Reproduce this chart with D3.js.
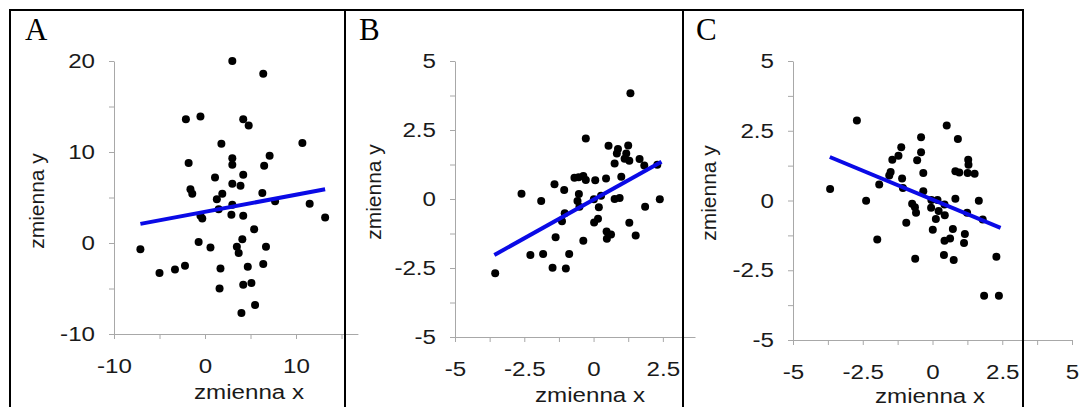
<!DOCTYPE html>
<html>
<head>
<meta charset="utf-8">
<script src="https://cdn.jsdelivr.net/npm/d3@7"></script>
<style>
  body { margin: 0; background: #fff; }
  svg { display: block; }
</style>
</head>
<body>
<div id="chart"></div>
<script>
// Values: [x, y]
const pointsA = [
  [3.0, 20.0], [6.4, 18.6], [-2.1, 13.6], [-0.5, 13.9], [4.2, 13.6], [4.8, 12.9],
  [1.8, 10.9], [10.7, 11.0], [3.0, 9.3], [3.0, 8.6], [7.1, 9.6], [-1.8, 8.8],
  [6.5, 8.5], [1.1, 7.2], [4.2, 7.5], [3.0, 6.5], [3.9, 6.3], [-1.6, 5.9],
  [-1.4, 5.4], [1.9, 5.4], [6.3, 5.5], [1.3, 4.8], [1.5, 3.7], [3.0, 4.2],
  [7.7, 4.6], [11.5, 4.3], [13.2, 2.8], [-0.5, 3.0], [-0.3, 2.7], [2.9, 3.1],
  [4.2, 3.0], [5.4, 1.5], [-7.1, -0.7], [-0.7, 0.1], [0.6, -0.5], [4.1, 0.4],
  [3.5, -0.4], [3.7, -1.1], [6.7, -0.4], [-5.0, -3.3], [-3.3, -2.9], [-2.2, -2.5],
  [1.7, -2.8], [4.7, -2.6], [6.4, -2.3], [1.6, -5.0], [4.2, -4.6], [5.1, -4.4],
  [5.5, -6.8], [4.0, -7.7]
];
const pointsB = [
  [1.33, 3.83], [-0.28, 2.19], [0.54, 1.93], [1.25, 1.94], [0.88, 1.81], [0.84, 1.65],
  [1.18, 1.65], [1.12, 1.46], [1.29, 1.39], [1.66, 1.45], [0.76, 1.29], [1.83, 1.21],
  [2.30, 1.24], [-0.69, 0.77], [-0.54, 0.79], [-0.37, 0.83], [-0.28, 0.69], [0.06, 0.68],
  [0.45, 0.74], [1.00, 0.81], [-1.41, 0.53], [-1.06, 0.33], [-2.60, 0.19], [-1.89, -0.07],
  [-0.53, 0.18], [-0.58, -0.07], [-0.51, -0.28], [0.01, -0.01], [0.27, 0.12], [0.19, -0.30],
  [0.76, 0.0], [0.94, 0.04], [2.39, -0.01], [1.86, -0.28], [-1.04, -0.52], [-1.14, -0.81],
  [0.02, -0.85], [0.16, -0.72], [1.29, -0.86], [-1.37, -1.39], [-0.37, -1.51], [0.47, -1.18],
  [0.48, -1.44], [0.63, -1.29], [1.52, -1.32], [-2.28, -2.03], [-1.82, -1.99], [-0.88, -1.99],
  [-1.48, -2.49], [-1.00, -2.52], [-3.55, -2.69]
];
const pointsC = [
  [-2.71, 2.87], [0.51, 2.69], [-0.41, 2.27], [0.91, 2.20], [-1.12, 1.91], [-0.41, 1.73],
  [-1.22, 1.60], [-1.44, 1.46], [-0.55, 1.44], [1.28, 1.46], [1.29, 1.28], [-1.50, 1.02],
  [-1.55, 0.90], [-0.33, 0.99], [0.82, 1.05], [0.96, 1.00], [1.26, 0.99], [1.51, 0.96],
  [-1.09, 0.79], [-1.06, 0.45], [-1.91, 0.57], [-3.67, 0.41], [-0.33, 0.33], [-2.38, -0.01],
  [-0.04, 0.02], [0.18, 0.02], [0.82, 0.06], [1.66, -0.01], [-0.73, -0.12], [-0.63, -0.24],
  [-0.59, -0.44], [-0.05, -0.26], [0.22, -0.38], [0.43, -0.14], [0.44, -0.53], [1.24, -0.44],
  [1.80, -0.68], [-0.94, -0.80], [0.12, -0.66], [0.01, -1.05], [0.73, -1.02], [1.16, -1.20],
  [-1.98, -1.40], [0.43, -1.44], [0.63, -1.36], [1.13, -1.52], [0.41, -1.95], [-0.62, -2.09],
  [0.76, -2.13], [2.29, -2.02], [1.85, -3.41], [2.38, -3.41]
];

// fitted lines, end points
const lineA = [[-7.1, 2.1], [13.2, 5.9]];
const lineB = [[-3.58, -2.03], [2.45, 1.35]];
const lineC = [[-3.68, 1.56], [2.44, -0.98]];

const panelLetters = ["A", "B", "C"];
const xLabel = "zmienna x";
const yLabel = "zmienna y";

const xTicksA = [-10, -5, 0, 5, 10, 15];
const xTickLabelsA = [-10, 0, 10];
const yTicksA = [-10, -5, 0, 5, 10, 15, 20];
const yTickLabelsA = [-10, 0, 10, 20];

const xTicksB = [-5, -3.75, -2.5, -1.25, 0, 1.25, 2.5];
const xTickLabelsB = [-5, -2.5, 0, 2.5];
const yTicksB = [-5, -3.75, -2.5, -1.25, 0, 1.25, 2.5, 3.75, 5];
const yTickLabelsB = [-5, -2.5, 0, 2.5, 5];

const xTicksC = [-5, -3.75, -2.5, -1.25, 0, 1.25, 2.5, 3.75, 5];
const xTickLabelsC = [-5, -2.5, 0, 2.5, 5];
const yTicksC = yTicksB;
const yTickLabelsC = yTickLabelsB;

// layout
const W = 1079, H = 407;
const axisColor = "#a8a8a8";
const textColor = "#1a1a1a";
const sansFont = "'Liberation Sans', Arial, sans-serif";

const panels = [
  {
    letter: panelLetters[0], points: pointsA, fit: lineA,
    xDomain: [-10, 16.8], xRange: [114, 357.9], yDomain: [-10, 20], yRange: [334, 61],
    xTicks: xTicksA, xLabs: xTickLabelsA, yTicks: yTicksA, yLabs: yTickLabelsA,
    frame: [10, 345], letterX: 25, yLabelX: 44, yLabelY: 201, xLabelX: 249, xLabelY: 399
  },
  {
    letter: panelLetters[1], points: pointsB, fit: lineB,
    xDomain: [-5, 3.66], xRange: [455, 695], yDomain: [-5, 5], yRange: [337, 61],
    xTicks: xTicksB, xLabs: xTickLabelsB, yTicks: yTicksB, yLabs: yTickLabelsB,
    frame: [345, 683], letterX: 359, yLabelX: 381, yLabelY: 192, xLabelX: 590, xLabelY: 402
  },
  {
    letter: panelLetters[2], points: pointsC, fit: lineC,
    xDomain: [-5, 5], xRange: [793, 1072], yDomain: [-5, 5], yRange: [340, 61],
    xTicks: xTicksC, xLabs: xTickLabelsC, yTicks: yTicksC, yLabs: yTickLabelsC,
    frame: [683, 1023], letterX: 696, yLabelX: 716, yLabelY: 193, xLabelX: 930, xLabelY: 403
  }
];

const svg = d3
  .select("#chart")
  .append("svg")
  .attr("width", W)
  .attr("height", H);

svg.append("rect").attr("width", W).attr("height", H).attr("fill", "#fff");

const fmt = d => String(d);

panels.forEach(p => {
  const x = d3.scaleLinear().domain(p.xDomain).range(p.xRange);
  const y = d3.scaleLinear().domain(p.yDomain).range(p.yRange);
  const g = svg.append("g");

  // x axis
  const gX = g
    .append("g")
    .attr("transform", "translate(0," + y(p.yDomain[0]) + ")")
    .call(
      d3.axisBottom(x)
        .tickValues(p.xTicks)
        .tickSize(5)
        .tickSizeOuter(0)
        .tickPadding(19)
        .tickFormat(d => (p.xLabs.includes(d) ? fmt(d) : ""))
    );

  // y axis
  const gY = g
    .append("g")
    .attr("transform", "translate(" + x(p.xDomain[0]) + ",0)")
    .call(
      d3.axisLeft(y)
        .tickValues(p.yTicks)
        .tickSize(5)
        .tickSizeOuter(0)
        .tickPadding(14)
        .tickFormat(d => (p.yLabs.includes(d) ? fmt(d) : ""))
    );

  [gX, gY].forEach(a => {
    a.select(".domain").attr("stroke", axisColor).attr("stroke-width", 1);
    a.selectAll(".tick line").attr("stroke", axisColor).attr("stroke-width", 1);
    a.selectAll(".tick text")
      .attr("fill", textColor)
      .style("font-family", sansFont)
      .style("font-size", "21px");
  });
  gX.selectAll(".tick text").attr("transform", "scale(1.15,1)");
  gY.selectAll(".tick text")
    .attr("x", 0)
    .attr("transform", "translate(-19,0) scale(1.15,1)");

  // points
  g.append("g")
    .selectAll("circle")
    .data(p.points)
    .join("circle")
    .attr("cx", d => x(d[0]))
    .attr("cy", d => y(d[1]))
    .attr("r", 4)
    .attr("fill", "#000");

  // fitted line
  g.append("path")
    .datum(p.fit)
    .attr("fill", "none")
    .attr("stroke", "#0a0ae6")
    .attr("stroke-width", 4)
    .attr("d", d3.line().x(d => x(d[0])).y(d => y(d[1])));

  // axis titles
  g.append("text")
    .attr("transform", "translate(" + p.xLabelX + "," + p.xLabelY + ") scale(1.15,1)")
    .attr("text-anchor", "middle")
    .attr("fill", textColor)
    .style("font-family", sansFont)
    .style("font-size", "21px")
    .text(xLabel);

  g.append("text")
    .attr("transform", "translate(" + p.yLabelX + "," + p.yLabelY + ") rotate(-90)")
    .attr("text-anchor", "middle")
    .attr("fill", textColor)
    .style("font-family", sansFont)
    .style("font-size", "21px")
    .text(yLabel);

  // panel letter
  svg.append("text")
    .attr("x", p.letterX)
    .attr("y", 40)
    .attr("fill", "#000")
    .style("font-family", "'Liberation Serif', 'Times New Roman', serif")
    .style("font-size", "31px")
    .text(p.letter);
});

// panel frames
const edges = [10, 345, 683, 1023];
svg.append("g")
  .selectAll("line")
  .data(edges)
  .join("line")
  .attr("x1", d => d)
  .attr("x2", d => d)
  .attr("y1", 9)
  .attr("y2", H)
  .attr("stroke", "#000")
  .attr("stroke-width", 2);
svg.append("line")
  .attr("x1", 9)
  .attr("x2", 1024)
  .attr("y1", 10)
  .attr("y2", 10)
  .attr("stroke", "#000")
  .attr("stroke-width", 2);
</script>
</body>
</html>
